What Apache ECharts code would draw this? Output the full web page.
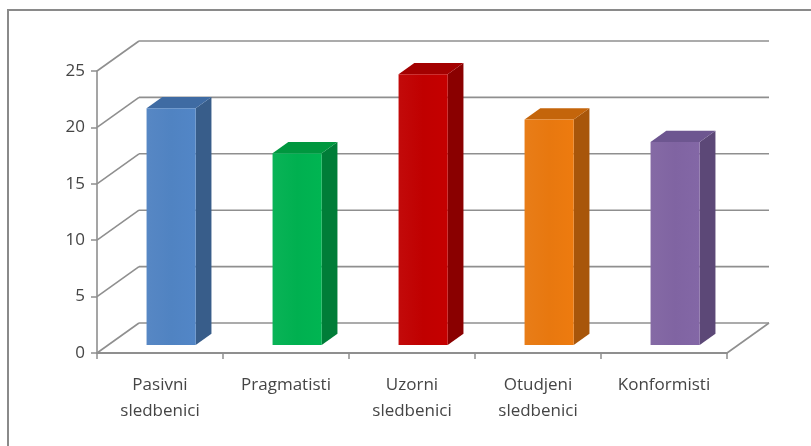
<!DOCTYPE html>
<html>
<head>
<meta charset="utf-8">
<script src="https://cdn.jsdelivr.net/npm/echarts@6/dist/echarts.min.js"></script>
<style>
  html, body { margin: 0; padding: 0; background: #ffffff; }
  #chart { width: 811px; height: 446px; }
</style>
</head>
<body>
<div id="chart"></div>
<script>
// Categories and values
const categories = ['Pasivni\nsledbenici', 'Pragmatisti', 'Uzorni\nsledbenici', 'Otudjeni\nsledbenici', 'Konformisti'];
const values = [21, 17, 24, 20, 18];
const yTicks = [0, 5, 10, 15, 20, 25];

// Face colours per bar: front, side, top
const frontColors = ['#5083c2', '#00b050', '#c00000', '#e8780f', '#8064a2'];
const sideColors  = ['#385d8a', '#007d38', '#8a0000', '#a8560a', '#5c4877'];
const topColors   = ['#3f6ba3', '#00973f', '#a30000', '#c4650b', '#6d5690'];

// Oblique depth of the plot box (back wall offset)
const DEPTH_X = 42;
const DEPTH_Y = -30;
// Bar position inside the depth (fractions) and width (fraction of band)
const BAR_NEAR = 0.265;
const BAR_FAR = 0.64;
const BAR_WIDTH = 0.39;

const chart = echarts.init(document.getElementById('chart'), null, { renderer: 'canvas' });

const lineColor = '#8f8f8f';
const textColor = '#454545';
const fontFamily = '"Open Sans", "Liberation Sans", sans-serif';

function renderWall(params, api) {
  const v = api.value(1);
  const cs = params.coordSys;
  const y = api.coord([0, v])[1];
  const left = cs.x;
  const right = cs.x + cs.width;
  const style = { stroke: lineColor, lineWidth: 1.6, fill: null };
  const children = [
    { type: 'line', shape: { x1: left, y1: y, x2: left + DEPTH_X, y2: y + DEPTH_Y }, style: style },
    { type: 'line', shape: { x1: left + DEPTH_X, y1: y + DEPTH_Y, x2: right + DEPTH_X, y2: y + DEPTH_Y }, style: style }
  ];
  if (v === 0) {
    children.push({ type: 'line', shape: { x1: right, y1: y, x2: right + DEPTH_X, y2: y + DEPTH_Y }, style: style });
  }
  return { type: 'group', children: children };
}

function renderBar(params, api) {
  const idx = api.value(0);
  const val = api.value(1);
  const base = api.coord([idx, 0]);
  const topPt = api.coord([idx, val]);
  const band = api.size([1, 0])[0];
  const w = band * BAR_WIDTH;
  const ox = DEPTH_X * BAR_NEAR, oy = DEPTH_Y * BAR_NEAR;
  const ddx = DEPTH_X * (BAR_FAR - BAR_NEAR), ddy = DEPTH_Y * (BAR_FAR - BAR_NEAR);
  const xl = base[0] - w / 2 + ox;
  const xr = xl + w;
  const yb = base[1] + oy;
  const yt = topPt[1] + oy;
  return {
    type: 'group',
    children: [
      { type: 'polygon', shape: { points: [[xr, yt], [xr + ddx, yt + ddy], [xr + ddx, yb + ddy], [xr, yb]] },
        style: { fill: sideColors[idx] } },
      { type: 'polygon', shape: { points: [[xl, yt], [xl + ddx, yt + ddy], [xr + ddx, yt + ddy], [xr, yt]] },
        style: { fill: topColors[idx] } },
      { type: 'rect', shape: { x: xl, y: yt, width: w, height: yb - yt },
        style: {
          fill: new echarts.graphic.LinearGradient(0, 0, 1, 0, [
            { offset: 0, color: echarts.color.lift(frontColors[idx], 0.04) },
            { offset: 0.5, color: frontColors[idx] },
            { offset: 1, color: echarts.color.lift(frontColors[idx], -0.03) }
          ])
        } }
    ]
  };
}

chart.setOption({
  animation: false,
  backgroundColor: '#ffffff',
  graphic: [
    { type: 'rect', z: -1, shape: { x: 8, y: 10, width: 830, height: 470 },
      style: { fill: null, stroke: '#8a8a8a', lineWidth: 2 } }
  ],
  grid: { left: 97, top: 71, width: 630, height: 282, containLabel: false },
  xAxis: {
    type: 'category',
    data: categories,
    boundaryGap: true,
    axisLine: { show: true, lineStyle: { color: lineColor, width: 2 } },
    axisTick: { show: true, length: 6, alignWithLabel: false, lineStyle: { color: lineColor, width: 1.5 } },
    axisLabel: { color: textColor, fontSize: 17, fontFamily: fontFamily, lineHeight: 26, margin: 19 },
    splitLine: { show: false }
  },
  yAxis: {
    type: 'value',
    min: 0,
    max: 25,
    interval: 5,
    axisLine: { show: true, lineStyle: { color: lineColor, width: 1.6 } },
    axisTick: { show: true, length: 6, lineStyle: { color: lineColor, width: 1.5 } },
    axisLabel: { color: textColor, fontSize: 17, fontFamily: fontFamily, margin: 12 },
    splitLine: { show: false }
  },
  series: [
    {
      type: 'custom',
      z: 1,
      clip: false,
      renderItem: renderWall,
      encode: { x: 0, y: 1 },
      data: yTicks.map(function (t) { return [0, t]; })
    },
    {
      type: 'custom',
      z: 3,
      clip: false,
      renderItem: renderBar,
      encode: { x: 0, y: 1 },
      data: values.map(function (v, i) { return [i, v]; })
    }
  ]
});
</script>
</body>
</html>
